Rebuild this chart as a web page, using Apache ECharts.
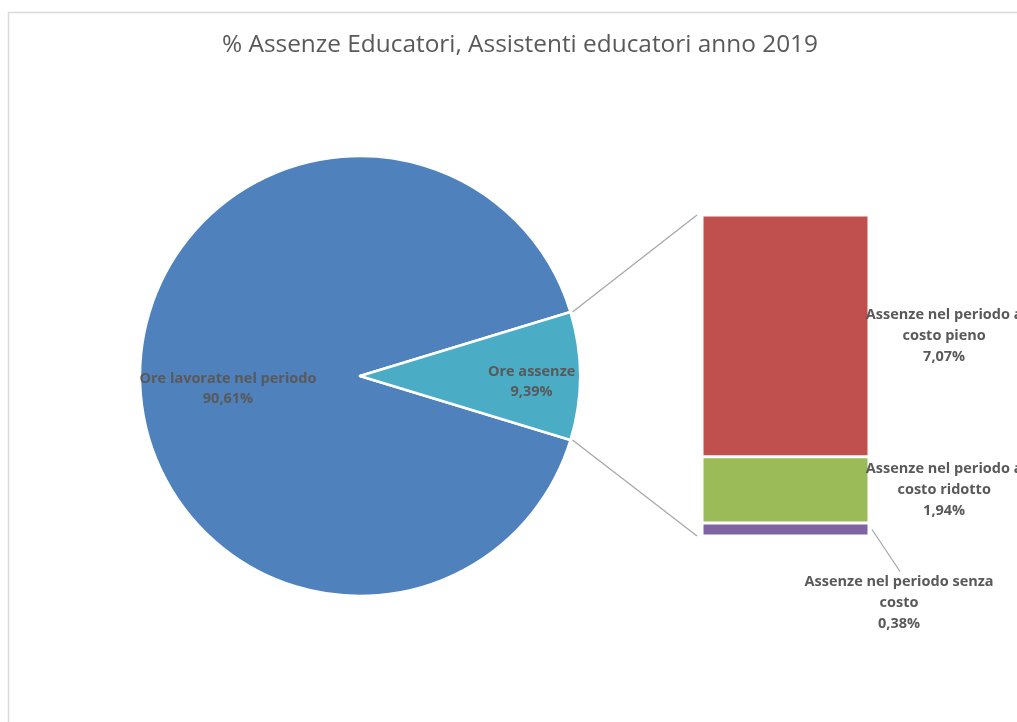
<!DOCTYPE html>
<html>
<head>
<meta charset="utf-8">
<script src="https://cdn.jsdelivr.net/npm/echarts@6/dist/echarts.min.js"></script>
<style>
  html, body { margin: 0; padding: 0; background: #fff; }
  #main { width: 1017px; height: 722px; }
</style>
</head>
<body>
<div id="main"></div>
<script>
const titleText = '% Assenze Educatori, Assistenti educatori anno 2019';
const pieNames = ['Ore lavorate nel periodo', 'Ore assenze'];
const pieValues = [90.61, 9.39];
// bottom to top in the stacked bar
const barNames = ['Assenze nel periodo senza\ncosto', 'Assenze nel periodo a\ncosto ridotto', 'Assenze nel periodo a\ncosto pieno'];
const barValues = [0.38, 1.94, 7.07];

const pieColors = ['#4f81bd', '#4bacc6'];
const barColors = ['#8064a2', '#9bbb59', '#c0504d'];

const fmt = v => v.toFixed(2).replace('.', ',') + '%';

const cx = 360, cy = 376, r = 220;
const gridLeft = 702, gridTop = 215, gridW = 167, gridH = 321;
const labelColor = '#595959';
const font = '"Open Sans", "Liberation Sans", sans-serif';

let chart = echarts.init(document.getElementById('main'));

let absTotal = pieValues[1];
let halfDeg = 180 * absTotal / 100;

let barSeries = barValues.map((v, i) => {
  let pos = i === 0 ? ['118%', 80] : ['145%', '50%'];
  return {
    type: 'bar',
    name: barNames[i],
    stack: 'abs',
    barWidth: '100%',
    data: [v],
    itemStyle: { color: barColors[i], borderColor: '#fff', borderWidth: 1.5 },
    silent: true,
    label: {
      show: true,
      position: pos,
      align: 'center',
      verticalAlign: 'middle',
      color: labelColor,
      fontWeight: 'bold',
      fontSize: 14.5,
      lineHeight: 21,
      fontFamily: font,
      formatter: () => barNames[i] + '\n' + fmt(v)
    }
  };
});

// label spots inside the slices, as a share of the radius
const pieLabelSpots = [[-0.6, 0.06], [0.78, 0.025]];

let option = {
  animation: false,
  backgroundColor: '#fff',
  title: {
    text: titleText,
    left: 515,
    top: 28,
    textAlign: 'center',
    textStyle: { color: labelColor, fontWeight: 'normal', fontSize: 24.4, fontFamily: font }
  },
  grid: { left: gridLeft, top: gridTop, width: gridW, height: gridH },
  xAxis: { type: 'category', data: ['assenze'], show: false },
  yAxis: { type: 'value', min: 0, max: absTotal, show: false },
  graphic: [{
    type: 'rect',
    silent: true,
    shape: { x: 8.5, y: 12.5, width: 1200, height: 900 },
    style: { fill: 'none', stroke: '#d9d9d9', lineWidth: 1.5 }
  }],
  series: [{
    type: 'pie',
    center: [cx, cy],
    radius: r,
    startAngle: 360 - halfDeg,
    clockwise: true,
    silent: true,
    emphasis: { scale: false },
    data: pieNames.map((n, i) => ({ name: n, value: pieValues[i], itemStyle: { color: pieColors[i] } })),
    itemStyle: { borderColor: '#fff', borderWidth: 2.5 },
    label: {
      show: true,
      position: 'inside',
      color: labelColor,
      fontWeight: 'bold',
      fontSize: 14.5,
      lineHeight: 20,
      fontFamily: font,
      formatter: p => p.name + '\n' + fmt(p.value)
    },
    labelLine: { show: false },
    labelLayout: p => {
      let s = pieLabelSpots[p.dataIndex];
      return { x: cx + s[0] * r, y: cy + s[1] * r, align: 'center', verticalAlign: 'middle' };
    }
  }].concat(barSeries)
};

chart.setOption(option);

// connector lines between the pie slice and the bar, plus the leader of the small label
let rad = halfDeg * Math.PI / 180;
let edgeX = cx + r * Math.cos(rad);
let yTop = chart.convertToPixel({ yAxisIndex: 0 }, absTotal);
let yBot = chart.convertToPixel({ yAxisIndex: 0 }, 0);
let yPurple = chart.convertToPixel({ yAxisIndex: 0 }, barValues[0] / 2);
let lineStyle = { stroke: '#a6a6a6', lineWidth: 1.2 };

chart.setOption({
  graphic: [
    option.graphic[0],
    { type: 'line', silent: true, shape: { x1: edgeX + 2, y1: cy - r * Math.sin(rad), x2: gridLeft - 5, y2: yTop }, style: lineStyle },
    { type: 'line', silent: true, shape: { x1: edgeX + 2, y1: cy + r * Math.sin(rad), x2: gridLeft - 5, y2: yBot }, style: lineStyle },
    { type: 'line', silent: true, shape: { x1: gridLeft + gridW + 3, y1: yPurple, x2: 900, y2: yPurple + 42 }, style: lineStyle }
  ]
});
</script>
</body>
</html>
